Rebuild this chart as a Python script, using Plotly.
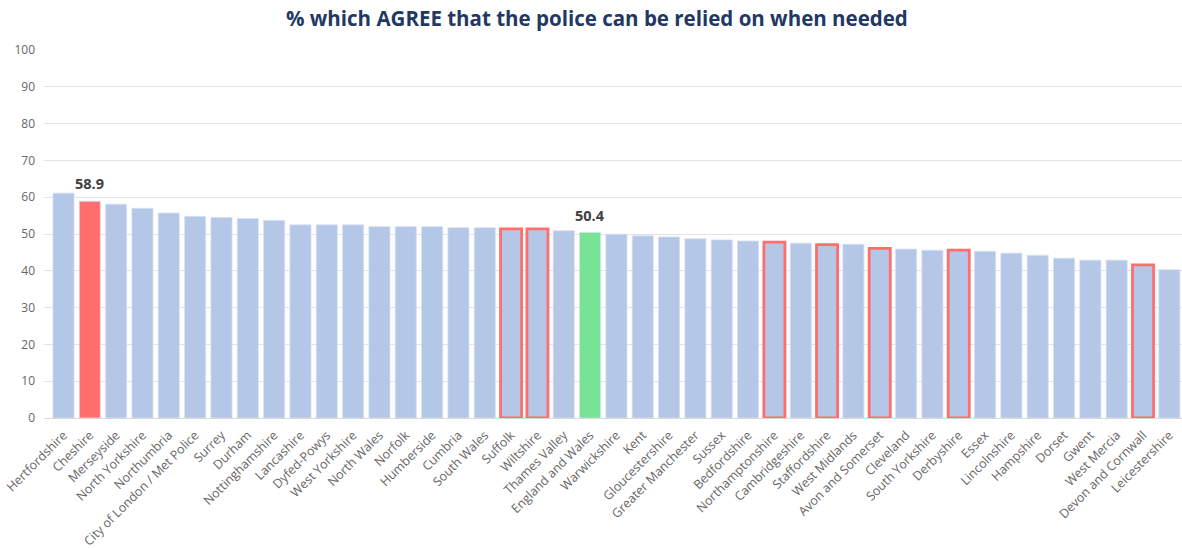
import plotly.graph_objects as go

forces = [
    "Hertfordshire", "Cheshire", "Merseyside", "North Yorkshire", "Northumbria",
    "City of London / Met Police", "Surrey", "Durham", "Nottinghamshire", "Lancashire",
    "Dyfed-Powys", "West Yorkshire", "North Wales", "Norfolk", "Humberside",
    "Cumbria", "South Wales", "Suffolk", "Wiltshire", "Thames Valley",
    "England and Wales", "Warwickshire", "Kent", "Gloucestershire", "Greater Manchester",
    "Sussex", "Bedfordshire", "Northamptonshire", "Cambridgeshire", "Staffordshire",
    "West Midlands", "Avon and Somerset", "Cleveland", "South Yorkshire", "Derbyshire",
    "Essex", "Lincolnshire", "Hampshire", "Dorset", "Gwent",
    "West Mercia", "Devon and Cornwall", "Leicestershire",
]
agree_pct = [
    61.1, 58.9, 58.1, 57.0, 55.7,
    54.8, 54.5, 54.2, 53.7, 52.5,
    52.5, 52.5, 52.0, 52.0, 52.0,
    51.7, 51.7, 51.4, 51.4, 50.9,
    50.4, 49.9, 49.5, 49.2, 48.7,
    48.4, 48.1, 47.8, 47.5, 47.1,
    47.2, 46.1, 45.9, 45.6, 45.6,
    45.3, 44.8, 44.2, 43.4, 42.9,
    42.9, 41.6, 40.3,
]
highlight = "Cheshire"
national = "England and Wales"
outlined = ["Suffolk", "Wiltshire", "Northamptonshire", "Staffordshire",
            "Avon and Somerset", "Derbyshire", "Devon and Cornwall"]
y_ticks = [0, 10, 20, 30, 40, 50, 60, 70, 80, 90, 100]

BLUE = "#b4c7e7"
RED = "#ff6d6d"
GREEN = "#77e394"

fill = []
line_w = []
line_c = []
for f in forces:
    if f == highlight:
        fill.append(RED)
    elif f == national:
        fill.append(GREEN)
    else:
        fill.append(BLUE)
    if f in outlined:
        line_w.append(2.8)
        line_c.append(RED)
    else:
        line_w.append(0.8)
        line_c.append("#d6e0f2")

fig = go.Figure(go.Bar(
    x=forces,
    y=agree_pct,
    marker=dict(color=fill, line=dict(color=line_c, width=line_w)),
))

# value labels for the highlighted force and the national figure
for f, v in zip(forces, agree_pct):
    if f in (highlight, national):
        fig.add_annotation(
            x=f, y=v, text=f"<b>{v:.1f}</b>", showarrow=False,
            yanchor="bottom", yshift=6,
            font=dict(family="Open Sans", size=14.5, color="#404040"),
        )

fig.update_layout(
    width=1182, height=548,
    margin=dict(l=44, r=0, t=50, b=130),
    paper_bgcolor="white", plot_bgcolor="white",
    bargap=0.2,
    showlegend=False,
    title=dict(
        text="<b>% which AGREE that the police can be relied on when needed</b>",
        x=0.505, xanchor="center", y=0.965, yanchor="middle",
        font=dict(family="Open Sans", size=20.5, color="#1f3864"),
    ),
    xaxis=dict(
        tickangle=-45,
        tickfont=dict(family="Open Sans", size=12.5, color="#666666"),
        showgrid=False,
        showline=True, linecolor="#d9d9d9", linewidth=1,
        ticks="", ticklabelstandoff=4,
        range=[-0.74, len(forces) - 0.52],
    ),
    yaxis=dict(
        range=[0, 100], tickvals=y_ticks,
        tickfont=dict(family="Open Sans", size=12, color="#666666"),
        showgrid=True, gridcolor="#e3e3e3", gridwidth=1,
        zeroline=False, ticks="", ticklabelstandoff=8,
    ),
)

fig.write_html("out.html")
